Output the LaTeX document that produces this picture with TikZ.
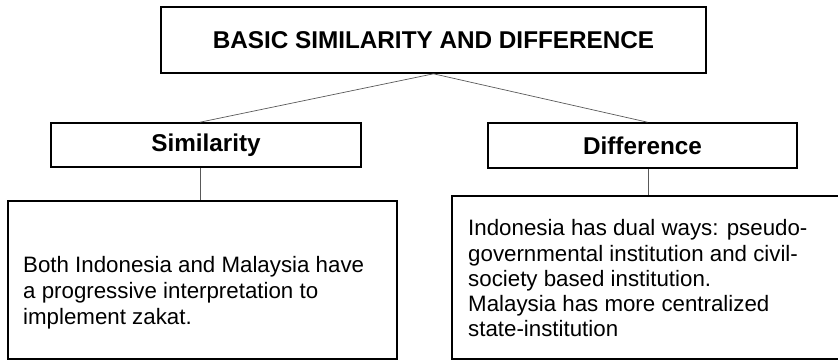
\documentclass[tikz,border=0pt]{standalone}
\usepackage{fontspec}
\setmainfont{Liberation Sans}
\begin{document}
\begin{tikzpicture}[x=1pt,y=-1pt,
  box/.style={draw=black,line width=1.6pt,rectangle,inner sep=0pt},
  head/.style={font=\bfseries\fontsize{24.3}{28}\selectfont},
  body/.style={font=\fontsize{22.3}{26}\selectfont,align=left,inner sep=0pt,anchor=north west},
  conn/.style={draw=black!65,line width=0.7pt}]
\useasboundingbox (0,0) rectangle (838,361);
\node[box,head,minimum width=545pt,minimum height=66pt] (top) at (433.5,40) {BASIC SIMILARITY AND DIFFERENCE};
\node[box,head,minimum width=310pt,minimum height=44pt] (sim) at (206,145) {Similarity};
\node[box,head,minimum width=309pt,minimum height=45pt] (diff) at (642.5,145.5) {Difference};
\node[box,minimum width=389pt,minimum height=158pt] (lsim) at (202.5,280) {};
\node[box,minimum width=392pt,minimum height=163pt] (rdiff) at (648,277.5) {};
\node[body] (ltext) at (23,256.5) {Both Indonesia and Malaysia have\\a progressive interpretation to\\implement zakat.};
\node[body,font=\fontsize{22.3}{25.2}\selectfont] (rtext) at (468,219.5) {Indonesia has dual ways: pseudo-\\governmental institution and civil-\\society based institution.\\Malaysia has more centralized\\state-institution};
\draw[conn] (top.south) -- ([xshift=-6pt]sim.north);
\draw[conn] (top.south) -- ([xshift=5pt]diff.north);
\draw[conn] ([xshift=-6pt]sim.south) -- ([xshift=-2.5pt]lsim.north);
\draw[conn] ([xshift=5.5pt]diff.south) -- (rdiff.north);
\end{tikzpicture}
\end{document}
